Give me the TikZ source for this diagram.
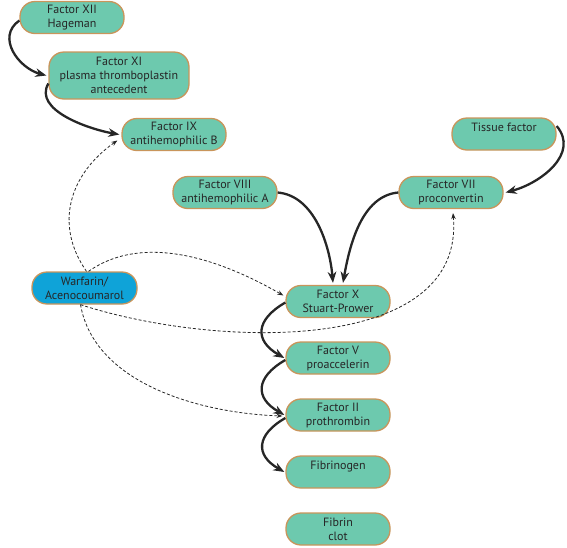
\documentclass[tikz,border=0pt]{standalone}
\usepackage{fontspec}
\setmainfont{PT Sans}
\usepackage{tikz}
\usetikzlibrary{arrows.meta,positioning,calc}
\definecolor{factorfill}{HTML}{6DC9AE}
\definecolor{factoredge}{HTML}{C9955B}
\definecolor{drugfill}{HTML}{0FA3D8}
\definecolor{ink}{HTML}{262626}
\tikzset{
  factorbox/.style={draw=factoredge,fill=factorfill,line width=1.3pt,
                    rounded corners=15pt,minimum width=104pt,minimum height=32pt,
                    align=center,font=\fontsize{12}{14}\selectfont,text=ink,inner sep=1pt},
  drugbox/.style={factorbox,fill=drugfill,minimum width=105pt},
  cascadearr/.style={-{Stealth[length=11pt,width=8.5pt,inset=3.5pt]},line width=2.3pt,color=ink},
  inhibarr/.style={-{Stealth[length=6pt,width=4.5pt,inset=2pt]},line width=0.8pt,
                   dash pattern=on 3pt off 2pt,color=ink}
}
\begin{document}
\begin{tikzpicture}[x=1pt,y=1pt]
  \useasboundingbox (0,0) rectangle (567,-547);
  % clotting factors
  \node[factorbox] (xii) at (72,-17.5) {Factor XII\\Hageman};
  \node[factorbox,minimum width=140pt,minimum height=47pt] (xi) at (119,-75.5)
       {Factor XI\\plasma thromboplastin\\antecedent};
  \node[factorbox] (ix) at (174,-134.5) {Factor IX\\antihemophilic B};
  \node[factorbox] (tf) at (504,-134) {Tissue factor\\\mbox{}};
  \node[factorbox] (viii) at (225,-192.5) {Factor VIII\\antihemophilic A};
  \node[factorbox] (vii) at (451,-192.5) {Factor VII\\proconvertin};
  \node[drugbox] (warf) at (84.5,-288) {Warfarin/\\Acenocoumarol};
  \node[factorbox] (x) at (338,-301.5) {Factor X\\Stuart-Prower};
  \node[factorbox] (v) at (338,-358) {Factor V\\proaccelerin};
  \node[factorbox] (ii) at (338,-415) {Factor II\\prothrombin};
  \node[factorbox] (fbg) at (338,-472) {Fibrinogen\\\mbox{}};
  \node[factorbox] (clot) at (338,-529) {Fibrin\\clot};

  % cascade
  \draw[cascadearr] ([yshift=-3pt]xii.west) to[out=215,in=165,looseness=1.2] ([xshift=-2pt]xi.west);
  \draw[cascadearr] ([yshift=-8pt]xi.west) to[out=240,in=170,looseness=0.9] ([xshift=-2pt]ix.west);
  \draw[cascadearr] ([yshift=8pt]tf.east) to[out=-50,in=15,looseness=1.1] ([xshift=2pt]vii.east);
  \draw[cascadearr] (viii.east) to[out=-5,in=95,looseness=0.9] ([xshift=-5pt,yshift=2pt]x.north);
  \draw[cascadearr] (vii.west) to[out=185,in=80,looseness=0.9] ([xshift=5pt,yshift=2pt]x.north);
  \draw[cascadearr] ([yshift=-1pt]x.west) to[out=210,in=150,looseness=1.6] ([xshift=-1pt]v.west);
  \draw[cascadearr] ([yshift=-2pt]v.west) to[out=210,in=150,looseness=1.6] ([xshift=-1pt]ii.west);
  \draw[cascadearr] ([yshift=-3pt]ii.west) to[out=210,in=150,looseness=1.6] ([xshift=-1pt]fbg.west);

  % inhibition by the drug
  \draw[inhibarr] ([xshift=2pt]warf.north) to[out=125,in=215,looseness=1.1] ([xshift=-4pt,yshift=-6pt]ix.west);
  \draw[inhibarr] ([xshift=4pt]warf.north) to[out=35,in=150,looseness=0.9] ([xshift=-2pt,yshift=6pt]x.west);
  \draw[inhibarr] ([xshift=-4pt]warf.south) to[out=-18,in=-85,looseness=0.95] ([xshift=2pt,yshift=-4pt]vii.south);
  \draw[inhibarr] ([xshift=-4pt]warf.south) to[out=-80,in=178,looseness=0.9] ([xshift=-3pt,yshift=-1pt]ii.west);
\end{tikzpicture}
\end{document}
